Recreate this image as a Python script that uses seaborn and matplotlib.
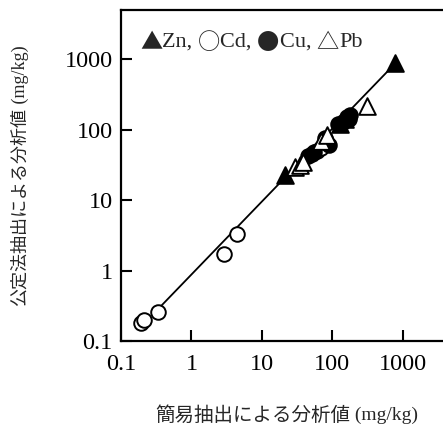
import matplotlib
matplotlib.use("Agg")
import matplotlib.pyplot as plt
import seaborn as sns
import pandas as pd

# data
zn_x = [21, 130, 150, 780]
zn_y = [23, 120, 140, 870]
cd_x = [0.19, 0.21, 0.33, 2.9, 4.4, 52, 60, 70]
cd_y = [0.18, 0.20, 0.26, 1.7, 3.3, 45, 50, 55]
cu_x = [45, 55, 90, 80, 120, 140, 160, 180, 170]
cu_y = [42, 48, 60, 75, 120, 130, 150, 160, 140]
pb_x = [30, 35, 38, 70, 85, 310]
pb_y = [30, 32, 35, 70, 85, 220]
fit_x = [0.32, 780]
fit_y = [0.27, 870]

xticks = [0.1, 1, 10, 100, 1000]
xticklabels = ["0.1", "1", "10", "100", "1000"]
legend_parts = [("▲", "sym"), ("Zn, ", "txt"), ("○", "sym"), ("Cd, ", "txt"),
                ("●", "sym"), ("Cu, ", "txt"), ("△", "sym"), ("Pb", "txt")]
xlabel_parts = [("簡易抽出による分析値", "cjk"), (" (mg/kg)", "txt")]
ylabel_parts = [("公定法抽出による分析値", "cjk"), (" (mg/kg)", "txt")]

sns.set_theme(style="ticks")
plt.rcParams['font.family'] = ['Liberation Serif', 'Noto Sans CJK JP', 'DejaVu Sans']

fig = plt.figure(figsize=(4.43, 4.32), dpi=100)
ax = fig.add_axes([121/443, 91/432, 331/443, 331/432])

sns.lineplot(x=fit_x, y=fit_y, ax=ax, color="black", linewidth=1.3, zorder=1)

series = [
    (zn_x, zn_y, "^", "black", 12),
    (cd_x, cd_y, "o", "white", 10.5),
    (cu_x, cu_y, "o", "black", 10.5),
    (pb_x, pb_y, "^", "white", 12),
]
for xs, ys, m, fc, ms in series:
    df = pd.DataFrame({"x": xs, "y": ys})
    sns.scatterplot(data=df, x="x", y="y", ax=ax, marker=m, s=ms**2,
                    facecolor=fc, edgecolor="black", linewidth=1.4, zorder=3)

ax.set_xscale("log")
ax.set_yscale("log")
ax.set_xlim(0.1, 5000)
ax.set_ylim(0.1, 5000)
ax.set_xticks(xticks)
ax.set_xticklabels(xticklabels)
ax.set_yticks(xticks)
ax.set_yticklabels(xticklabels)
ax.minorticks_off()
ax.tick_params(direction="in", length=8, width=1.5, labelsize=17.5, colors="black")
ax.tick_params(axis="y", pad=6)
ax.tick_params(axis="x", pad=9)
for sp in ax.spines.values():
    sp.set_visible(True)
    sp.set_linewidth(1.6)
    sp.set_color("black")
ax.set_xlabel("")
ax.set_ylabel("")

fams = {"sym": ["Noto Sans CJK JP", "DejaVu Sans"],
        "txt": ["Liberation Serif"],
        "cjk": ["Noto Sans CJK JP"]}

fig.canvas.draw()
renderer = fig.canvas.get_renderer()


def chain(parts, x0, y0, size, rotation=0, center=False):
    """Place text pieces one after another (pixel coords, origin top-left)."""
    texts = []
    for s, kind in parts:
        t = fig.text(0, 0, s, family=fams[kind], fontsize=size, rotation=rotation,
                     ha="left", va="center_baseline" if rotation == 0 else "center",
                     rotation_mode="anchor")
        texts.append(t)
    lengths = []
    for t in texts:
        bb = t.get_window_extent(renderer)
        lengths.append(bb.width if rotation == 0 else bb.height)
    total = sum(lengths)
    pos = x0 - total / 2 if (center and rotation == 0) else x0
    if rotation == 90:
        pos = (432 - y0) - total / 2 if center else 432 - y0
    for t, L in zip(texts, lengths):
        if rotation == 0:
            t.set_position((pos / 443, 1 - y0 / 432))
        else:
            t.set_position((x0 / 443, pos / 432))
        pos += L


chain(xlabel_parts, 287, 413, 14, center=True)
chain(ylabel_parts, 20, 176, 13, rotation=90, center=True)
chain(legend_parts, 140, 40, 16)

fig.savefig("out.png", dpi=100)
